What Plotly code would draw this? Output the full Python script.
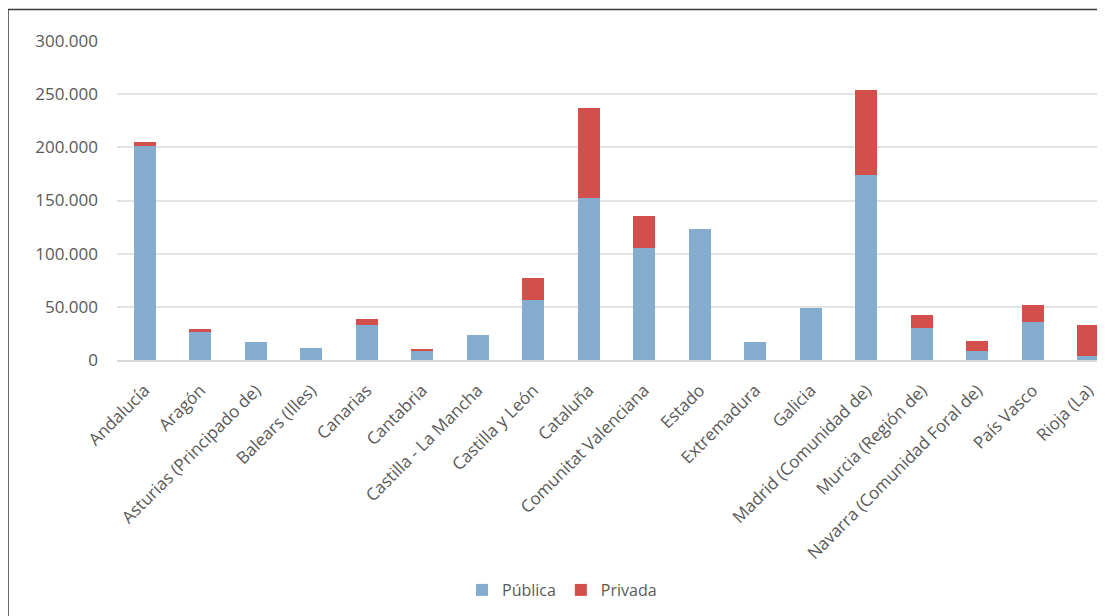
import plotly.graph_objects as go

categorias = ["Andalucía", "Aragón", "Asturias (Principado de)", "Balears (Illes)", "Canarias",
              "Cantabria", "Castilla - La Mancha", "Castilla y León", "Cataluña",
              "Comunitat Valenciana", "Estado", "Extremadura", "Galicia",
              "Madrid (Comunidad de)", "Murcia (Región de)", "Navarra (Comunidad Foral de)",
              "País Vasco", "Rioja (La)"]
publica = [201000, 26000, 16600, 11300, 33200, 8500, 23200, 56000, 152400,
           105100, 123000, 16600, 49100, 174000, 30400, 8500, 35700, 3800]
privada = [4000, 3000, 0, 0, 5300, 2100, 0, 21000, 84800,
           30700, 0, 0, 0, 80100, 11600, 9000, 15900, 29100]
y_ticks = [0, 50000, 100000, 150000, 200000, 250000, 300000]

# page body has an 8px margin: work in window pixels and shift
OFF = 8
W, H = 1105 - OFF, 616 - OFF
L, R, T, B = 117 - OFF, 0, 41 - OFF, H - (360 - OFF)
pw, ph = W - L - R, H - T - B

font = "Open Sans, Liberation Sans, sans-serif"
gray = "#595959"

fig = go.Figure()
fig.add_trace(go.Bar(x=categorias, y=publica, name="Pública",
                     marker=dict(color="#84ACCF", line=dict(width=0))))
fig.add_trace(go.Bar(x=categorias, y=privada, name="Privada",
                     marker=dict(color="#D34F4B", line=dict(width=0))))

def px_x(x):  # window pixel -> paper
    return (x - OFF - L) / pw

def px_y(y):
    return (H - B - (y - OFF)) / ph

fig.update_layout(
    width=W, height=H,
    margin=dict(l=L, r=R, t=T, b=B, autoexpand=False),
    barmode="stack", bargap=0.6,
    paper_bgcolor="white", plot_bgcolor="white",
    separators=",.",
    font=dict(family=font, size=17, color=gray),
    showlegend=True,
    legend=dict(orientation="h", traceorder="normal", x=px_x(562), y=px_y(590),
                xanchor="center", yanchor="middle",
                font=dict(size=16, color=gray), itemwidth=30),
    xaxis=dict(range=[-0.5, 17.3], tickangle=-45, showgrid=False, showline=True,
               linecolor="#D9D9D9", linewidth=1.5, ticks="", tickfont=dict(size=17, color=gray),
               ticklabelstandoff=12),
    yaxis=dict(range=[0, 300000], tickvals=y_ticks, tickformat=",d", showgrid=True,
               gridcolor="#E3E3E3", gridwidth=1.5, zeroline=False, showline=False,
               tickfont=dict(size=17, color=gray), ticks="", ticklabelstandoff=18),
    shapes=[dict(type="rect", xref="paper", yref="paper",
                 x0=px_x(8), y0=px_y(9.5), x1=px_x(1130), y1=px_y(660),
                 line=dict(color="#3A3A3A", width=1.5), fillcolor="rgba(0,0,0,0)", layer="above")],
)

fig.write_html("out.html")
